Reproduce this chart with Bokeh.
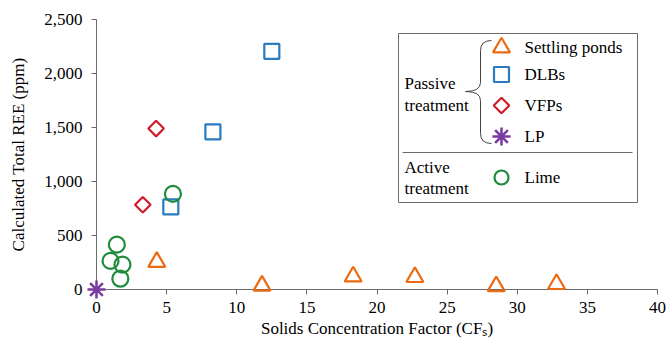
from bokeh.plotting import figure
from bokeh.models import Range1d, FixedTicker, NumeralTickFormatter
from bokeh.core.properties import value
from bokeh.embed import file_html
from bokeh.resources import INLINE
import math

# ---- data ----
settling_x = [4.3, 11.8, 18.3, 22.7, 28.5, 32.8]
settling_y = [255, 35, 120, 115, 30, 50]
dlb_x = [5.3, 8.3, 12.5]
dlb_y = [765, 1460, 2205]
vfp_x = [3.3, 4.25]
vfp_y = [785, 1490]
lp_x = [0.0]
lp_y = [0.0]
lime_x = [1.45, 1.0, 1.85, 1.7, 5.45]
lime_y = [415, 265, 230, 100, 885]

x_ticks = [0, 5, 10, 15, 20, 25, 30, 35, 40]
y_ticks = [0, 500, 1000, 1500, 2000, 2500]

ORANGE = "#EC6A12"
BLUE = "#2A7BBF"
RED = "#D01C2A"
PURPLE = "#7A3AA0"
GREEN = "#1E8C3C"
AXIS = "#6b6b6b"
FONT = "Liberation Serif"

p = figure(width=670, height=342, output_backend="svg", toolbar_location=None,
           x_range=Range1d(0, 40), y_range=Range1d(0, 2500),
           min_border_left=96, min_border_right=13, min_border_top=19, min_border_bottom=53)
p.outline_line_color = None
p.xgrid.visible = False
p.ygrid.visible = False

# pixel ranges for legend decoration
p.extra_x_ranges = {"px": Range1d(96, 657)}
p.extra_y_ranges = {"py": Range1d(289, 19)}

for ax in (p.xaxis[0], p.yaxis[0]):
    ax.axis_line_color = AXIS
    ax.major_tick_line_color = AXIS
    ax.major_tick_out = 5
    ax.major_tick_in = 0
    ax.minor_tick_line_color = None
    ax.major_label_text_font = FONT
    ax.major_label_text_font_size = "17px"
    ax.major_label_text_color = "black"
    ax.axis_label_text_font = FONT
    ax.axis_label_text_font_size = "17px"
    ax.axis_label_text_font_style = "normal"
    ax.axis_label_text_color = "black"

p.xaxis.ticker = FixedTicker(ticks=x_ticks)
p.yaxis.ticker = FixedTicker(ticks=y_ticks)
p.yaxis.formatter = NumeralTickFormatter(format="0,0")
p.xaxis.axis_label = "Solids Concentration Factor (CF\u209b)"
p.yaxis.axis_label = "Calculated Total REE (ppm)"
p.xaxis.major_label_standoff = 7
p.xaxis.axis_label_standoff = 3
p.yaxis.major_label_standoff = 9
p.yaxis.axis_label_standoff = 13

LW = 2.2
r = p.scatter(settling_x, settling_y, marker="triangle", size=17, fill_color=None, line_color=ORANGE, line_width=LW)
r.level = "overlay"
r = p.scatter(dlb_x, dlb_y, marker="square", size=15, fill_color=None, line_color=BLUE, line_width=LW)
r.level = "overlay"
r = p.scatter(vfp_x, vfp_y, marker="square", angle=math.pi / 4, size=11, fill_color=None, line_color=RED, line_width=LW)
r.level = "overlay"
r = p.scatter(lp_x, lp_y, marker="asterisk", size=18, line_color=PURPLE, line_width=2.5)
r.level = "overlay"
r = p.scatter(lime_x, lime_y, marker="circle", size=16, fill_color=None, line_color=GREEN, line_width=LW)
r.level = "overlay"

# ---- legend (pixel coordinates) ----
kw = dict(x_range_name="px", y_range_name="py")
box = p.quad(left=[398], right=[637], top=[33], bottom=[202], fill_color="white",
             line_color=AXIS, line_width=1, **kw)
box.level = "overlay"
sep = p.segment(x0=[402], y0=[152], x1=[632], y1=[152], line_color=AXIS, line_width=1, **kw)
sep.level = "overlay"

# brace
bx = dict(line_color="#444444", line_width=1, **kw)
segs = [
    p.quadratic(x0=[491], y0=[40], x1=[480], y1=[50], cx=[480], cy=[40], **bx),
    p.segment(x0=[480], y0=[50], x1=[480], y1=[82], **bx),
    p.quadratic(x0=[480], y0=[82], x1=[465], y1=[91], cx=[480], cy=[91], **bx),
    p.quadratic(x0=[465], y0=[91], x1=[480], y1=[100], cx=[480], cy=[91], **bx),
    p.segment(x0=[480], y0=[100], x1=[480], y1=[133], **bx),
    p.quadratic(x0=[480], y0=[133], x1=[491], y1=[143], cx=[480], cy=[143], **bx),
]
for s in segs:
    s.level = "overlay"

leg_y = [47, 74, 105, 136, 177]
mx = 501
items = [
    dict(marker="triangle", size=17, angle=0, line_color=ORANGE, line_width=LW),
    dict(marker="square", size=15, angle=0, line_color=BLUE, line_width=LW),
    dict(marker="square", size=11, angle=math.pi / 4, line_color=RED, line_width=LW),
    dict(marker="asterisk", size=18, angle=0, line_color=PURPLE, line_width=2.5),
    dict(marker="circle", size=14, angle=0, line_color=GREEN, line_width=LW),
]
labels = ["Settling ponds", "DLBs", "VFPs", "LP", "Lime"]
for yy, it in zip(leg_y, items):
    g = p.scatter([mx], [yy], fill_color=None, **it, **kw)
    g.level = "overlay"

t = p.text(x=[524] * 5, y=leg_y, text=labels, text_font=value(FONT), text_font_size="17px",
           text_baseline="middle", text_align="left", text_color="black", **kw)
t.level = "overlay"
t2 = p.text(x=[404] * 4, y=[83, 105, 167, 188], text=["Passive", "treatment", "Active", "treatment"],
            text_font=value(FONT), text_font_size="17px", text_baseline="middle",
            text_align="left", text_color="black", **kw)
t2.level = "overlay"

open("out.html", "w").write(file_html(p, INLINE))
